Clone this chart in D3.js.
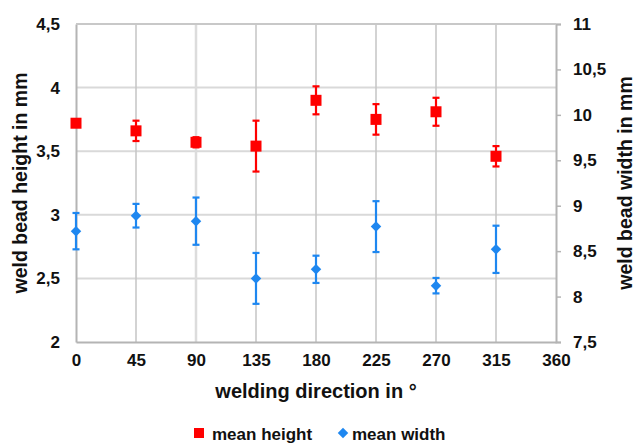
<!DOCTYPE html>
<html>
<head>
    <meta charset="utf-8" />
    <title>Weld bead height and width</title>
    <style>
        body { margin: 0; background: #fff; }
        text { font-family: 'Liberation Sans', Arial, sans-serif; font-weight: bold; fill: #111; }
    </style>
    <script type="text/javascript" src="https://cdn.jsdelivr.net/npm/d3@7/dist/d3.min.js"></script>
</head>
<body>
    <div id="svg"></div>
    <script type="text/javascript">
        var directions = [0, 45, 90, 135, 180, 225, 270, 315];
        var meanHeight = [3.72, 3.66, 3.57, 3.54, 3.90, 3.75, 3.81, 3.46];
        var heightErr = [0.0, 0.08, 0.04, 0.20, 0.11, 0.12, 0.11, 0.08];
        var meanWidth = [8.72, 8.89, 8.83, 8.20, 8.30, 8.77, 8.12, 8.52];
        var widthErr = [0.20, 0.13, 0.26, 0.28, 0.15, 0.28, 0.085, 0.26];
        var xTicks = [0, 45, 90, 135, 180, 225, 270, 315, 360];
        var leftTicks = [2, 2.5, 3, 3.5, 4, 4.5];
        var rightTicks = [7.5, 8, 8.5, 9, 9.5, 10, 10.5, 11];

        var width = 636,
            height = 444,
            plotLeft = 76, plotRight = 556, plotTop = 24, plotBottom = 342;

        var svg = d3.select('#svg')
            .append('svg')
            .attr('width', width)
            .attr('height', height);

        var xScale = d3.scaleLinear().domain([0, 360]).range([plotLeft, plotRight]);
        var yLeft = d3.scaleLinear().domain([2, 4.5]).range([plotBottom, plotTop]);
        var yRight = d3.scaleLinear().domain([7.5, 11]).range([plotBottom, plotTop]);

        var fmt = d => String(d).replace('.', ',');

        // grid
        svg.append('g').selectAll('line')
            .data(leftTicks.slice(1))
            .enter().append('line')
            .attr('x1', plotLeft).attr('x2', plotRight)
            .attr('y1', d => yLeft(d)).attr('y2', d => yLeft(d))
            .attr('stroke', d => d === 4.5 ? '#c8c8c8' : '#d9d9d9')
            .attr('stroke-width', d => d === 4.5 ? 1.5 : 2);

        svg.append('g').selectAll('line')
            .data(xTicks.slice(1, -1))
            .enter().append('line')
            .attr('x1', d => xScale(d)).attr('x2', d => xScale(d))
            .attr('y1', plotTop).attr('y2', plotBottom)
            .attr('stroke', d => d === 90 ? '#dcdcdc' : '#c4c4c4')
            .attr('stroke-width', d => d === 90 ? 2.5 : 1.5);

        // axes
        var xAxis = d3.axisBottom(xScale).tickValues(xTicks).tickSize(0).tickPadding(12);
        var gX = svg.append('g')
            .attr('transform', 'translate(0,' + plotBottom + ')')
            .call(xAxis);

        var gL = svg.append('g')
            .attr('transform', 'translate(' + plotLeft + ',0)')
            .call(d3.axisLeft(yLeft).tickValues(leftTicks).tickFormat(fmt).tickSize(0).tickPadding(16));

        var gR = svg.append('g')
            .attr('transform', 'translate(' + plotRight + ',0)')
            .call(d3.axisRight(yRight).tickValues(rightTicks).tickFormat(fmt).tickSize(5).tickPadding(12));

        [gX, gL, gR].forEach(function(g) {
            g.select('.domain').attr('stroke', '#b4b4b4').attr('stroke-width', 2);
            g.selectAll('.tick line').attr('stroke', '#b4b4b4').attr('stroke-width', 1.5);
            g.selectAll('.tick text')
                .attr('font-size', 17)
                .attr('font-family', "'Liberation Sans', Arial, sans-serif")
                .attr('font-weight', 'bold')
                .attr('fill', '#111');
        });

        svg.append('line')
            .attr('x1', plotLeft).attr('x2', plotRight)
            .attr('y1', plotTop).attr('y2', plotTop)
            .attr('stroke', '#c8c8c8').attr('stroke-width', 2);

        // error bars
        function errorBars(values, errs, scale, color) {
            var g = svg.append('g').attr('stroke', color).attr('stroke-width', 2.2);
            directions.forEach(function(d, i) {
                if (!errs[i]) return;
                var x = xScale(d),
                    y0 = scale(values[i] - errs[i]),
                    y1 = scale(values[i] + errs[i]);
                g.append('line').attr('x1', x).attr('x2', x).attr('y1', y0).attr('y2', y1);
                g.append('line').attr('x1', x - 3.5).attr('x2', x + 3.5).attr('y1', y0).attr('y2', y0);
                g.append('line').attr('x1', x - 3.5).attr('x2', x + 3.5).attr('y1', y1).attr('y2', y1);
            });
        }
        errorBars(meanHeight, heightErr, yLeft, '#ff0000');
        errorBars(meanWidth, widthErr, yRight, '#1e87f0');

        // markers
        svg.append('g').selectAll('rect')
            .data(directions)
            .enter().append('rect')
            .attr('x', d => xScale(d) - 5.5)
            .attr('y', (d, i) => yLeft(meanHeight[i]) - 5.5)
            .attr('width', 11).attr('height', 11)
            .attr('fill', '#ff0000');

        var diamond = d3.symbol().type(d3.symbolDiamond2).size(70);
        svg.append('g').selectAll('path')
            .data(directions)
            .enter().append('path')
            .attr('d', diamond)
            .attr('transform', (d, i) => 'translate(' + xScale(d) + ',' + yRight(meanWidth[i]) + ')')
            .attr('fill', '#1e87f0');

        // titles
        svg.append('text')
            .attr('transform', 'translate(27,' + ((plotTop + plotBottom) / 2) + ') rotate(-90)')
            .attr('text-anchor', 'middle')
            .attr('font-size', 19.5)
            .text('weld bead height in mm');

        svg.append('text')
            .attr('transform', 'translate(632,' + ((plotTop + plotBottom) / 2) + ') rotate(-90)')
            .attr('text-anchor', 'middle')
            .attr('font-size', 19.5)
            .text('weld bead width in mm');

        svg.append('text')
            .attr('x', 316).attr('y', 398)
            .attr('text-anchor', 'middle')
            .attr('font-size', 20)
            .text('welding direction in °');

        // legend
        var legend = svg.append('g');
        legend.append('rect')
            .attr('x', 194).attr('y', 428).attr('width', 10).attr('height', 10)
            .attr('fill', '#ff0000');
        legend.append('text')
            .attr('x', 212).attr('y', 440)
            .attr('font-size', 17)
            .text('mean height');
        legend.append('path')
            .attr('d', diamond)
            .attr('transform', 'translate(343,433)')
            .attr('fill', '#1e87f0');
        legend.append('text')
            .attr('x', 352).attr('y', 440)
            .attr('font-size', 17)
            .text('mean width');
    </script>
</body>
</html>
